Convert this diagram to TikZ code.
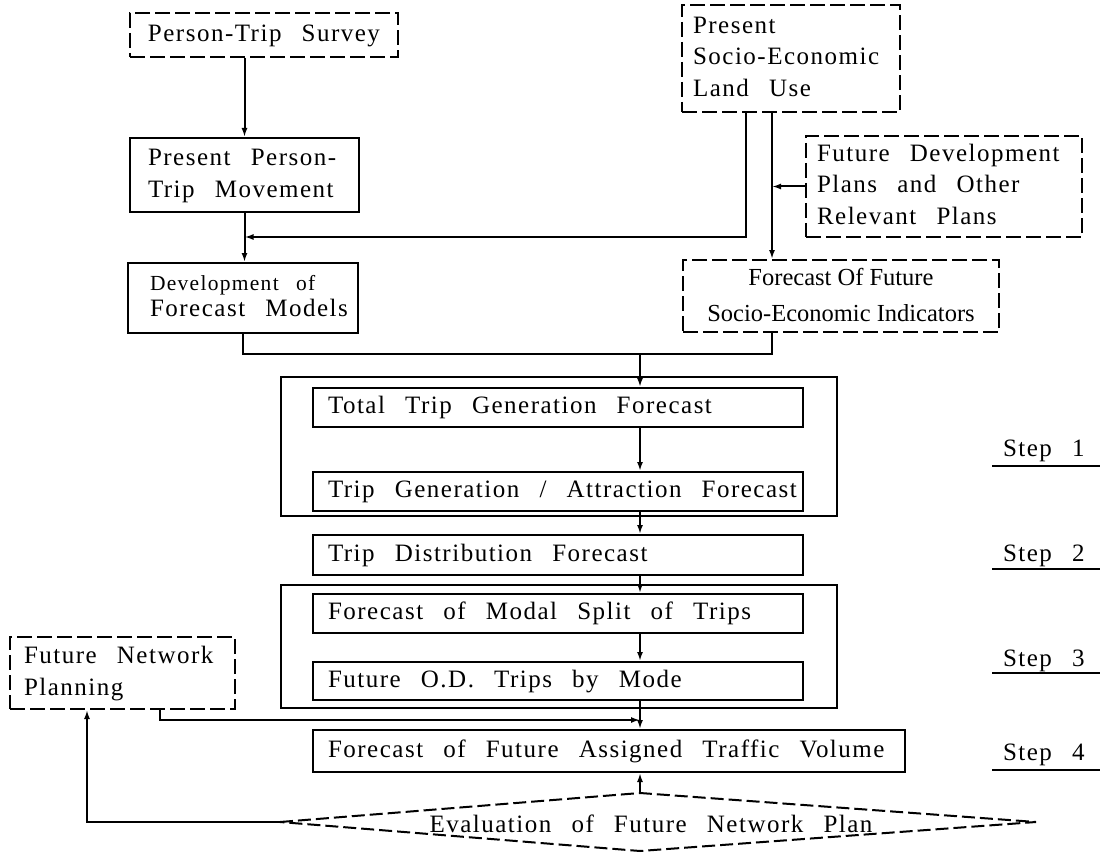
\documentclass[tikz,border=0pt]{standalone}
\usepackage{fontspec}
\setmainfont{Liberation Serif}[LetterSpace=6,WordSpace=2.6]
\newfontfamily\tightserif{Liberation Serif}
\usetikzlibrary{arrows.meta}

% a block of lines that never breaks, set in a box of fixed width
\newcommand{\txtblock}[3][l]{\makebox[#2][#1]{\begin{tabular}{@{}#1@{}}#3\end{tabular}}}

\begin{document}
\begin{tikzpicture}[x=1pt,y=-1pt,
  line width=2pt,
  every node/.style={font=\fontsize{25}{31.5}\selectfont},
  box/.style={draw, inner ysep=0pt},
  dbox/.style={box, dash pattern=on 15pt off 5pt},
  arr/.style={-{Latex[length=9pt,width=6pt]}},
  steplabel/.style={anchor=base west, inner sep=0pt},
  ]
\useasboundingbox (0,0) rectangle (1100,853);

% --- input data ---
\node[dbox, inner xsep=16pt, minimum height=44pt] (survey) at (264,35)
  {\txtblock[c]{236pt}{Person-Trip Survey}};
\node[box, inner xsep=18pt, minimum height=74pt] (ptm) at (244.5,175)
  {\txtblock{193pt}{Present Person-\\Trip Movement}};
\node[box, inner xsep=22pt, minimum height=70pt,
      font=\fontsize{25}{26}\selectfont] (dev) at (243,298)
  {\txtblock{186pt}{{\fontsize{21.5}{24}\selectfont Development of}\\Forecast Models}};

\node[dbox, inner xsep=11pt, minimum height=107pt] (socio) at (791,58.5)
  {\txtblock{196pt}{Present\\Socio-Economic\\Land Use}};
\node[dbox, inner xsep=11pt, minimum height=101pt] (fdp) at (944,186.5)
  {\txtblock{254pt}{Future Development\\Plans and Other\\Relevant Plans}};
\node[dbox, inner xsep=10pt, minimum height=68pt,
      font=\tightserif\fontsize{24.5}{36}\selectfont] (fof) at (841,296)
  {\txtblock[c]{296pt}{Forecast Of Future\\Socio-Economic Indicators}};

% --- forecasting steps ---
\node[box, minimum width=556pt, minimum height=139pt] (grp1) at (559,446.5) {};
\node[box, inner xsep=15pt, minimum height=39pt] (ttg) at (558,407.5)
  {\txtblock{460pt}{Total Trip Generation Forecast}};
\node[box, inner xsep=15pt, minimum height=39pt] (tga) at (558,491.5)
  {\txtblock{460pt}{Trip Generation / Attraction Forecast}};
\node[box, inner xsep=15pt, minimum height=40pt] (tdf) at (558,555)
  {\txtblock{460pt}{Trip Distribution Forecast}};
\node[box, minimum width=556pt, minimum height=123pt] (grp2) at (559,646.5) {};
\node[box, inner xsep=15pt, minimum height=39pt] (msp) at (558,613.5)
  {\txtblock{460pt}{Forecast of Modal Split of Trips}};
\node[box, inner xsep=15pt, minimum height=38pt] (odt) at (558,681)
  {\txtblock{460pt}{Future O.D. Trips by Mode}};
\node[dbox, inner xsep=14pt, minimum height=72pt] (fnp) at (122.5,673)
  {\txtblock{197pt}{Future Network\\Planning}};
\node[box, inner xsep=15pt, minimum height=42pt] (fav) at (609,751)
  {\txtblock{562pt}{Forecast of Future Assigned Traffic Volume}};

% --- evaluation diamond ---
\coordinate (el) at (280,822);
\coordinate (et) at (640,793);
\coordinate (er) at (1036,822);
\coordinate (eb) at (640,851);
\draw[dash pattern=on 13pt off 5pt] (el) -- (et) -- (er) -- (eb) -- cycle;
\node[anchor=base, inner sep=0pt] (evaltxt) at (651,832) {Evaluation of Future Network Plan};

% --- step labels ---
\node[steplabel] (s1) at (1002,456) {Step 1};
\node[steplabel] (s2) at (1002,561) {Step 2};
\node[steplabel] (s3) at (1002,666) {Step 3};
\node[steplabel] (s4) at (1002,760) {Step 4};
\draw (992,466) -- (1100,466);
\draw (992,569) -- (1100,569);
\draw (992,673) -- (1100,673);
\draw (992,770) -- (1100,770);

% --- connectors ---
\coordinate (cx) at (640,0);
\coordinate (ja) at (746,237);
\coordinate (jb) at (772,188);
\coordinate (jm) at (640,354);
\coordinate (jn) at (640,720);
\coordinate (fx) at (160,0);
\coordinate (fl) at (87,0);

\draw[arr] (survey.south -| ptm.north) -- (ptm.north);
\draw[arr] (ptm.south) -- (ptm.south |- dev.north);
\draw[arr] (socio.south -| ja) |- (ptm.south |- ja);
\draw[arr] (socio.south -| jb) -- (fof.north -| jb);
\draw[arr] (fdp.west) -- (fdp.west -| jb);
\draw (dev.south) |- (jm);
\draw (fof.south -| jb) |- (jm);
\draw[arr] (jm) -- (ttg.north -| cx);
\draw[arr] (ttg.south -| cx) -- (tga.north -| cx);
\draw[arr] (tga.south -| cx) -- (tdf.north -| cx);
\draw[arr] (tdf.south -| cx) -- (msp.north -| cx);
\draw[arr] (msp.south -| cx) -- (odt.north -| cx);
\draw[arr] (odt.south -| cx) -- (fav.north -| cx);
\draw[arr] (fnp.south -| fx) |- (jn);
\draw[arr] (et) -- (fav.south -| cx);
\draw[arr] (el) -| (fnp.south -| fl);
\end{tikzpicture}
\end{document}
